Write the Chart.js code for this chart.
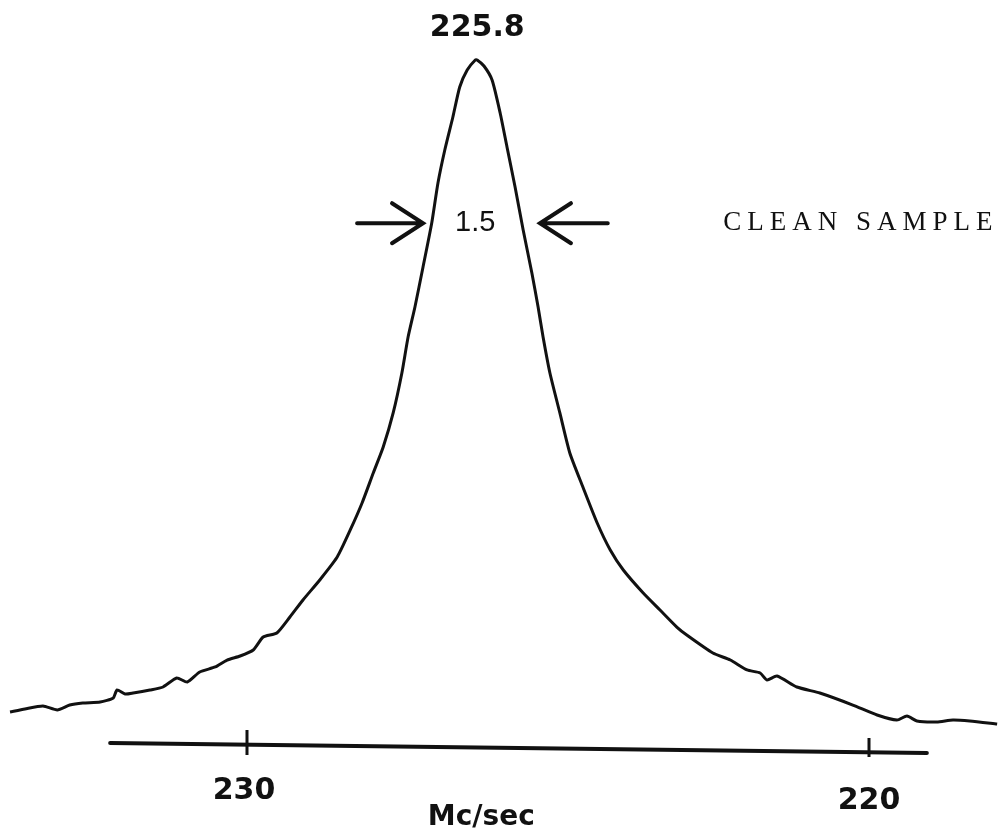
<!DOCTYPE html>
<html>
<head>
<meta charset="utf-8">
<script src="https://cdn.jsdelivr.net/npm/chart.js@4/dist/chart.umd.min.js"></script>
<style>
  html, body { margin: 0; padding: 0; background: #fff; }
  #wrap { width: 1000px; height: 837px; }
</style>
</head>
<body>
<div id="wrap"><canvas id="chart" width="1000" height="837"></canvas></div>
<script>
// frequency (Mc/sec) and relative signal
const freq = [
  233.81, 233.57, 233.28, 233.05, 232.85, 232.64, 232.36, 232.15, 232.09, 231.96,
  231.83, 231.56, 231.35, 231.13, 230.96, 230.76, 230.51, 230.32, 230.11, 229.90,
  229.74, 229.52, 229.31, 229.10, 228.83, 228.55, 228.34, 228.15, 227.97, 227.81,
  227.65, 227.51, 227.41, 227.30, 227.17, 227.03, 226.93, 226.82, 226.69, 226.58,
  226.46, 226.33, 226.30, 226.19, 226.06, 225.93, 225.82, 225.69, 225.56, 225.42,
  225.32, 225.24, 225.13, 224.97, 224.81, 224.60, 224.37, 224.16, 223.95, 223.63,
  223.36, 223.09, 222.93, 222.51, 222.23, 221.96, 221.75, 221.64, 221.48, 221.16,
  220.79, 220.26, 219.87, 219.55, 219.39, 219.23, 218.91, 218.65, 218.38, 217.94
];
const signal = [
  4.54, 4.98, 5.42, 4.83, 5.56, 5.86, 6.00, 6.59, 7.76, 7.17,
  7.32, 7.76, 8.20, 9.52, 8.93, 10.40, 11.13, 12.15, 12.74, 13.62,
  15.52, 16.11, 18.45, 20.94, 23.87, 27.23, 31.19, 35.14, 39.53, 43.34,
  48.32, 54.17, 59.44, 63.84, 69.69, 76.13, 81.99, 86.82, 91.65, 96.05,
  98.54, 100.0, 100.0, 99.12, 97.07, 92.24, 87.26, 81.41, 75.11, 68.81,
  63.84, 59.44, 54.17, 48.32, 42.46, 37.48, 32.21, 28.26, 25.33, 21.96,
  19.47, 16.98, 15.81, 13.18, 12.15, 10.69, 10.25, 9.22, 9.81, 8.20,
  7.32, 5.56, 4.10, 3.37, 3.95, 3.22, 3.07, 3.37, 3.22, 2.78
];

// hand drawn frequency axis (slightly tilted in the scan)
const axisFreq = [232.20, 219.07];
const axisLevel = [0, -1.46];
const tickFreqs = [230, 220];
const tickLabels = ['230', '220'];
const tickTop = [1.90, 0.73];
const tickBottom = [-1.76, -2.05];
const axisTitle = 'Mc/sec';

// annotations
const peakLabel = '225.8';
const widthLabel = '1.5';
const widthLevel = 76.1;
const arrowTails = [228.23, 224.20];
const arrowTips = [227.17, 225.29];
const sampleLabel = 'CLEAN SAMPLE';
const sampleFreq = 220.18;

const curve = freq.map((f, i) => ({ x: f, y: signal[i] }));
const axisLine = axisFreq.map((f, i) => ({ x: f, y: axisLevel[i] }));

const tickSets = tickFreqs.map((f, i) => ({
  data: [{ x: f, y: tickTop[i] }, { x: f, y: tickBottom[i] }],
  borderColor: '#111', borderWidth: 3, pointRadius: 0, tension: 0
}));

function drawArrow(ctx, x0, x1, y) {
  const dir = Math.sign(x1 - x0);
  ctx.beginPath();
  ctx.moveTo(x0, y);
  ctx.lineTo(x1, y);
  ctx.moveTo(x1 - dir * 31, y - 20);
  ctx.lineTo(x1, y);
  ctx.lineTo(x1 - dir * 31, y + 20);
  ctx.stroke();
}

function spacedText(ctx, text, cx, cy, gap) {
  const widths = [...text].map(c => ctx.measureText(c).width);
  const total = widths.reduce((a, b) => a + b, 0) + gap * (text.length - 1);
  let x = cx - total / 2;
  ctx.textAlign = 'left';
  [...text].forEach((c, i) => {
    ctx.fillText(c, x, cy);
    x += widths[i] + gap;
  });
}

const labelsPlugin = {
  id: 'labels',
  afterDatasetsDraw(chart) {
    const ctx = chart.ctx;
    const xs = chart.scales.x, ys = chart.scales.y;
    ctx.save();
    ctx.fillStyle = '#111';
    ctx.strokeStyle = '#111';
    ctx.textBaseline = 'middle';
    ctx.textAlign = 'center';

    // peak label
    let pk = 0;
    signal.forEach((v, i) => { if (v > signal[pk]) pk = i; });
    ctx.font = 'bold 30px "DejaVu Sans"';
    ctx.fillText(peakLabel, xs.getPixelForValue(freq[pk]) + 2, ys.getPixelForValue(signal[pk]) - 32);

    // tick labels and axis title
    const ax0 = xs.getPixelForValue(axisFreq[0]), ax1 = xs.getPixelForValue(axisFreq[1]);
    const ay0 = ys.getPixelForValue(axisLevel[0]), ay1 = ys.getPixelForValue(axisLevel[1]);
    tickFreqs.forEach((f, i) => {
      const px = xs.getPixelForValue(f);
      const py = ay0 + (ay1 - ay0) * (px - ax0) / (ax1 - ax0);
      ctx.fillText(tickLabels[i], px - 3 + i * 3, py + 47 + i * 2);
    });
    ctx.font = 'bold 28px "DejaVu Sans"';
    ctx.fillText(axisTitle, xs.getPixelForValue(freq[pk]) + 6, ay0 + 75);

    // width arrows
    const wy = ys.getPixelForValue(widthLevel);
    ctx.lineWidth = 4;
    ctx.lineCap = 'round';
    arrowTails.forEach((t, i) => {
      drawArrow(ctx, xs.getPixelForValue(t), xs.getPixelForValue(arrowTips[i]), wy);
    });
    ctx.font = '29px "Liberation Sans"';
    ctx.fillText(widthLabel, xs.getPixelForValue(freq[pk]), wy);

    // sample name
    ctx.font = '27px "Liberation Serif"';
    spacedText(ctx, sampleLabel, xs.getPixelForValue(sampleFreq), wy, 6);
    ctx.restore();
  }
};

new Chart(document.getElementById('chart'), {
  type: 'line',
  data: {
    datasets: [
      { data: curve, borderColor: '#111', borderWidth: 3, pointRadius: 0, tension: 0.2,
        borderJoinStyle: 'round' },
      { data: axisLine, borderColor: '#111', borderWidth: 4, pointRadius: 0, tension: 0,
        borderCapStyle: 'round' },
      ...tickSets
    ]
  },
  options: {
    responsive: false,
    animation: false,
    layout: { padding: 0 },
    plugins: { legend: { display: false }, tooltip: { enabled: false } },
    scales: {
      x: { type: 'linear', reverse: true, min: 217.894, max: 233.971, display: false },
      y: { type: 'linear', min: -13.76, max: 108.78, display: false }
    }
  },
  plugins: [labelsPlugin]
});
</script>
</body>
</html>
